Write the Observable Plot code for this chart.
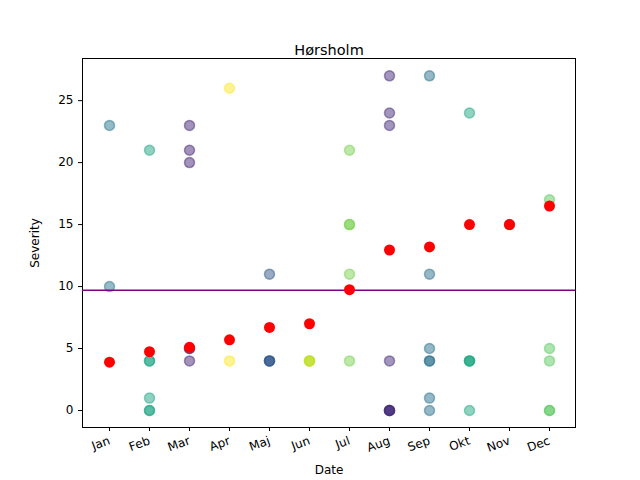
<!DOCTYPE html>
<html><head><meta charset="utf-8">
<script src="https://cdn.jsdelivr.net/npm/d3@7"></script>
<script src="https://cdn.jsdelivr.net/npm/@observablehq/plot@0.6"></script>
<style>body{margin:0;background:#fff;font-family:"DejaVu Sans",sans-serif;}</style>
</head><body><div id="chart"></div>
<script>
const months = ["Jan","Feb","Mar","Apr","Maj","Jun","Jul","Aug","Sep","Okt","Nov","Dec"];
const monthColors = ["#2a788e","#21a585","#482878","#fde725","#31578b","#bddf26","#7ad151","#472d7b","#2c728e","#22a884","#3b528b","#5ec962"];
// severity values per month (repeats = overlapping points)
const values = {
  Jan: [23, 10],
  Feb: [21, 4, 4, 1, 0, 0],
  Mar: [23, 21, 20, 4, 5, 5],
  Apr: [26, 4],
  Maj: [11, 4, 4, 4],
  Jun: [4, 4, 4],
  Jul: [21, 15, 15, 11, 4],
  Aug: [27, 24, 23, 4, 0, 0, 0, 0],
  Sep: [27, 11, 5, 4, 4, 1, 0],
  Okt: [24, 4, 4, 4, 0],
  Nov: [15],
  Dec: [17, 5, 4, 0, 0]
};
const redValues = [3.9, 4.75, 5.1, 5.7, 6.7, 7.0, 9.75, 12.95, 13.2, 15.0, 15.0, 16.5];
const overall = 9.7;

const points = months.flatMap((m, i) => values[m].map(v => ({month: m, value: v, color: monthColors[i]})));
const reds = months.map((m, i) => ({month: m, value: redValues[i]}));

const plot = Plot.plot({
  width: 640, height: 480,
  marginLeft: 82, marginRight: 65, marginTop: 58, marginBottom: 53,
  style: {fontSize: "12px", fontFamily: "DejaVu Sans"},
  x: {type: "point", domain: months, padding: 0.55, label: "Date", labelAnchor: "center", labelArrow: "none", labelOffset: 46, tickRotate: -20, tickSize: 4},
  y: {domain: [-1.37, 28.4], ticks: [0, 5, 10, 15, 20, 25], label: "Severity", labelAnchor: "center", labelArrow: "none", labelOffset: 52, tickSize: 4},
  marks: [
    Plot.frame({stroke: "black"}),
    Plot.dot(points, {x: "month", y: "value", r: 5, fill: "color", fillOpacity: 0.5, stroke: "color", strokeOpacity: 0.5}),
    Plot.ruleY([overall], {stroke: "purple", strokeWidth: 1.5}),
    Plot.dot(reds, {x: "month", y: "value", r: 5.5, fill: "red"}),
    Plot.text(["Hørsholm"], {frameAnchor: "top", dy: -14, fontSize: 14.5})
  ]
});
document.getElementById("chart").append(plot);
</script></body></html>
